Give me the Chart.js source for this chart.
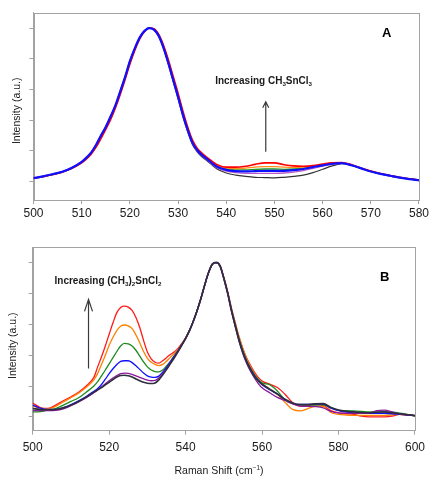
<!DOCTYPE html>
<html><head><meta charset="utf-8">
<script src="https://cdn.jsdelivr.net/npm/chart.js@4/dist/chart.umd.min.js"></script>
<style>
html,body{margin:0;padding:0;background:#fff;width:431px;height:478px;overflow:hidden}
#ca{position:absolute;left:0;top:0}
#cb{position:absolute;left:0;top:225px}
</style></head><body>
<canvas id="ca" width="431" height="225"></canvas>
<canvas id="cb" width="431" height="253"></canvas>
<script>
// ---------- DATA ----------
const Y_TICKS = [0, 1, 2, 3, 4, 5];
const A_X_TICK_STEP = 10;
const B_X_TICK_STEP = 20;

// Panel A: Raman shift (cm-1)
const A_X = [500,502,504,506,508,510,511,512,513,514,515,516,517,518,519,520,521,522,523,524,525,526,527,528,529,530,531,532,533,534,535,536,538,540,542,544,546,548,550,552,554,556,558,560,562,564,566,568,570,572,574,576,578,580];
const A_BLUE   = [0.11,0.17,0.24,0.32,0.45,0.64,0.78,0.95,1.20,1.50,1.78,2.12,2.48,2.94,3.40,3.92,4.33,4.68,4.90,5.00,4.95,4.74,4.35,3.85,3.30,2.76,2.18,1.68,1.26,1.02,0.86,0.74,
                  0.49,0.38,0.34,0.33,0.34,0.35,0.35,0.35,0.37,0.41,0.47,0.53,0.58,0.60,0.53,0.43,0.33,0.25,0.19,0.13,0.08,0.04];
const A_RED    = [0.11,0.16,0.23,0.31,0.43,0.61,0.74,0.90,1.12,1.40,1.70,2.02,2.40,2.84,3.32,3.82,4.26,4.63,4.88,5.00,4.98,4.79,4.43,3.96,3.42,2.88,2.30,1.78,1.35,1.08,0.92,0.79,
                  0.56,0.47,0.47,0.50,0.56,0.61,0.61,0.55,0.51,0.50,0.52,0.57,0.61,0.62,0.55,0.44,0.34,0.26,0.20,0.14,0.09,0.05];
const A_ORANGE = [0.11,0.16,0.23,0.31,0.44,0.62,0.76,0.92,1.15,1.44,1.73,2.06,2.43,2.88,3.36,3.86,4.29,4.65,4.89,5.00,4.97,4.77,4.40,3.91,3.37,2.82,2.24,1.73,1.31,1.05,0.89,0.77,
                  0.53,0.44,0.42,0.44,0.47,0.49,0.49,0.47,0.46,0.47,0.50,0.55,0.60,0.61,0.54,0.43,0.34,0.26,0.19,0.13,0.09,0.05];
const A_GREEN  = [0.11,0.17,0.23,0.31,0.44,0.63,0.77,0.93,1.17,1.46,1.75,2.09,2.45,2.90,3.38,3.88,4.30,4.66,4.89,5.00,4.96,4.75,4.37,3.88,3.33,2.79,2.21,1.70,1.28,1.03,0.87,0.75,
                  0.51,0.41,0.38,0.38,0.40,0.41,0.41,0.40,0.41,0.44,0.49,0.54,0.59,0.60,0.53,0.43,0.33,0.25,0.19,0.13,0.08,0.04];
const A_PURPLE = [0.12,0.18,0.25,0.33,0.46,0.65,0.80,0.97,1.22,1.52,1.80,2.14,2.50,2.96,3.42,3.93,4.35,4.69,4.91,5.00,4.94,4.72,4.33,3.82,3.27,2.72,2.15,1.65,1.23,0.99,0.83,0.71,
                  0.46,0.34,0.29,0.27,0.27,0.27,0.27,0.28,0.31,0.36,0.43,0.50,0.56,0.59,0.53,0.43,0.33,0.25,0.18,0.13,0.08,0.04];
const A_BLACK  = [0.11,0.17,0.24,0.32,0.45,0.64,0.78,0.95,1.20,1.50,1.78,2.12,2.48,2.94,3.40,3.92,4.33,4.68,4.90,5.00,4.94,4.72,4.33,3.82,3.26,2.70,2.12,1.62,1.20,0.96,0.80,0.68,
                  0.42,0.28,0.21,0.17,0.14,0.13,0.12,0.14,0.17,0.21,0.29,0.40,0.51,0.58,0.53,0.43,0.33,0.25,0.18,0.13,0.08,0.04];

// Panel B
const B_X = [500,502,504,506,508,510,512,514,516,
  517,518,519,520,521,522,523,524,525,526,527,528,529,530,531,532,533,534,535,536,537,538,539,540,541,542,543,544,545,546,547,548,549,550,551,552,553,554,555,556,557,558,559,560,
  562,564,566,568,570,572,574,576,578,580,582,584,586,588,590,592,594,596,598,600];
const B_RED = [0.45,0.30,0.27,0.38,0.52,0.65,0.80,1.00,1.28,
  1.62,1.95,2.30,2.68,3.05,3.38,3.55,3.59,3.56,3.45, 3.22,2.90,2.48,2.10,1.88,1.77,1.74,1.82,1.92,2.02,
  2.10,2.22,2.38,2.56,2.80,3.10,3.45,3.84,4.28,4.68, 4.95,5.00,4.90,4.52,4.06,3.52,3.04,2.58,2.20,1.90, 1.66,1.45,1.28,1.16,
  1.06,0.95,0.73,0.46,0.35,0.37,0.40,0.37,0.20,0.13,0.10,0.08,0.02,0.00,0.00,0.00,0.02,0.08,0.06,0.04];
const B_ORANGE = [0.35,0.28,0.26,0.34,0.48,0.62,0.77,0.96,1.20,
  1.41,1.70,2.00,2.32,2.58,2.80,2.94,2.98,2.95,2.86, 2.66,2.40,2.12,1.90,1.77,1.70,1.66,1.70,1.80,1.93,
  2.05,2.18,2.36,2.56,2.80,3.10,3.45,3.84,4.28,4.68, 4.95,5.00,4.90,4.52,4.06,3.52,3.04,2.58,2.20,1.88, 1.62,1.40,1.22,1.08,
  0.90,0.73,0.47,0.24,0.19,0.27,0.34,0.34,0.14,0.08,0.06,0.05,0.05,0.05,0.05,0.05,0.06,0.08,0.06,0.04];
const B_GREEN = [0.16,0.17,0.22,0.27,0.38,0.50,0.62,0.80,1.00,
  1.14,1.33,1.52,1.72,1.92,2.12,2.30,2.38,2.37,2.30, 2.16,1.97,1.78,1.62,1.52,1.47,1.46,1.52,1.65,1.80,
  1.98,2.15,2.35,2.55,2.80,3.10,3.45,3.84,4.28,4.68, 4.95,5.00,4.90,4.50,4.02,3.47,2.98,2.52,2.14,1.82, 1.57,1.37,1.21,1.10,
  1.04,0.84,0.55,0.43,0.38,0.38,0.38,0.39,0.30,0.21,0.20,0.19,0.18,0.16,0.16,0.16,0.15,0.12,0.08,0.03];
const B_BLUE = [0.38,0.28,0.24,0.24,0.30,0.40,0.52,0.66,0.83,
  0.92,1.05,1.22,1.40,1.56,1.70,1.80,1.82,1.82,1.76, 1.66,1.54,1.42,1.33,1.29,1.28,1.32,1.45,1.60,1.78,
  1.96,2.14,2.34,2.55,2.80,3.10,3.45,3.84,4.28,4.68, 4.95,5.00,4.90,4.50,4.02,3.46,2.96,2.49,2.10,1.79, 1.55,1.34,1.18,1.04,
  0.88,0.74,0.56,0.44,0.40,0.40,0.41,0.41,0.28,0.20,0.15,0.13,0.12,0.11,0.11,0.11,0.10,0.08,0.06,0.04];
const B_PURPLE = [0.20,0.20,0.20,0.21,0.26,0.36,0.48,0.62,0.78,
  0.87,0.97,1.07,1.17,1.26,1.34,1.40,1.42,1.41,1.38, 1.33,1.28,1.23,1.19,1.17,1.18,1.26,1.40,1.56,1.74,
  1.92,2.12,2.33,2.54,2.79,3.09,3.44,3.83,4.27,4.67, 4.95,5.00,4.88,4.47,3.98,3.42,2.92,2.44,2.04,1.72, 1.47,1.26,1.08,0.94,
  0.78,0.63,0.53,0.42,0.35,0.34,0.33,0.29,0.18,0.13,0.12,0.11,0.11,0.13,0.20,0.22,0.16,0.10,0.07,0.04];
const B_BLACK = [0.27,0.24,0.23,0.24,0.29,0.38,0.50,0.64,0.80,
  0.88,0.95,1.04,1.12,1.21,1.29,1.34,1.35,1.33,1.29, 1.23,1.17,1.12,1.09,1.08,1.10,1.20,1.36,1.53,1.72,
  1.91,2.11,2.32,2.54,2.79,3.09,3.44,3.84,4.28,4.68, 4.96,5.01,4.90,4.49,4.02,3.44,2.94,2.47,2.08,1.77, 1.52,1.31,1.16,1.06,
  0.90,0.74,0.57,0.45,0.40,0.40,0.42,0.43,0.30,0.22,0.18,0.16,0.14,0.13,0.15,0.16,0.13,0.10,0.07,0.04];

// ---------- STYLE / LAYOUT ----------
const FONT = '"Liberation Sans", Arial, Helvetica, sans-serif';
const AXIS_COLOR = '#a3a3a3';
const TEXT_COLOR = '#1a1a1a';

function pts(xs, ys) { return xs.map((x, i) => ({ x: x, y: ys[i] })); }
function ds(xs, ys, color, w) {
  return { data: pts(xs, ys), borderColor: color, borderWidth: w, pointRadius: 0,
           fill: false, cubicInterpolationMode: 'monotone' };
}

function drawRuns(ctx, x, y, parts, size, bold, color, align) {
  ctx.save();
  ctx.fillStyle = color; ctx.textBaseline = 'alphabetic'; ctx.textAlign = 'left';
  const fontFor = p => (bold ? 'bold ' : '') + (p.s ? size * 0.62 : size) + 'px ' + FONT;
  let total = 0;
  for (const p of parts) { ctx.font = fontFor(p); total += ctx.measureText(p.t).width; }
  let cx = align === 'center' ? x - total / 2 : x;
  for (const p of parts) {
    ctx.font = fontFor(p);
    const dy = p.s === 'sub' ? size * 0.2 : (p.s === 'sup' ? -size * 0.38 : 0);
    ctx.fillText(p.t, cx, y + dy);
    cx += ctx.measureText(p.t).width;
  }
  ctx.restore();
}
function arrowUp(ctx, x, y0, y1, hw, hl) {
  ctx.save();
  ctx.strokeStyle = '#3a3a3a'; ctx.lineWidth = 1.2;
  ctx.beginPath();
  ctx.moveTo(x, y0); ctx.lineTo(x, y1);
  ctx.moveTo(x - hw, y1 + hl); ctx.lineTo(x, y1); ctx.lineTo(x + hw, y1 + hl);
  ctx.stroke();
  ctx.restore();
}
function yTitle(ctx, cx, cy) {
  ctx.save();
  ctx.translate(cx, cy); ctx.rotate(-Math.PI / 2);
  ctx.fillStyle = TEXT_COLOR; ctx.font = '10.5px ' + FONT;
  ctx.textAlign = 'center'; ctx.textBaseline = 'middle';
  ctx.fillText('Intensity (a.u.)', 0, 0);
  ctx.restore();
}
const boxPlugin = {
  id: 'box',
  beforeDatasetsDraw(chart) {
    const a = chart.chartArea, ctx = chart.ctx;
    ctx.save(); ctx.strokeStyle = AXIS_COLOR; ctx.lineWidth = 1;
    ctx.strokeRect(Math.round(a.left) + 0.5, Math.round(a.top) + 0.5,
                   Math.round(a.right - a.left), Math.round(a.bottom - a.top));
    ctx.restore();
  }
};

function scales(xmin, xmax, step, ymin, ymax, yW, xH, xPad) {
  return {
    x: { type: 'linear', min: xmin, max: xmax,
         ticks: { stepSize: step, color: TEXT_COLOR, font: { family: FONT, size: 12 }, padding: xPad, maxRotation: 0, autoSkip: false },
         grid: { drawOnChartArea: false, color: AXIS_COLOR, tickLength: 4 },
         border: { color: AXIS_COLOR },
         afterFit(s) { s.height = xH; } },
    y: { type: 'linear', min: ymin, max: ymax,
         ticks: { display: false },
         grid: { drawOnChartArea: false, color: AXIS_COLOR, tickLength: 4 },
         border: { color: AXIS_COLOR },
         afterBuildTicks(s) { s.ticks = Y_TICKS.map(v => ({ value: v })); },
         afterFit(s) { s.width = yW; } }
  };
}
const common = { responsive: false, animation: false, devicePixelRatio: 1,
  plugins: { legend: { display: false }, tooltip: { enabled: false } } };

// ---------- PANEL A ----------
const annA = {
  id: 'annA',
  afterDraw(chart) {
    const ctx = chart.ctx, x = chart.scales.x, y = chart.scales.y;
    drawRuns(ctx, x.getPixelForValue(537.7), y.getPixelForValue(3.18),
      [{ t: 'Increasing CH' }, { t: '3', s: 'sub' }, { t: 'SnCl' }, { t: '3', s: 'sub' }], 10, true, TEXT_COLOR);
    arrowUp(ctx, x.getPixelForValue(548.2), y.getPixelForValue(0.97), y.getPixelForValue(2.60), 3, 6);
    drawRuns(ctx, x.getPixelForValue(573.3), y.getPixelForValue(4.70), [{ t: 'A' }], 13, true, '#000', 'center');
    yTitle(ctx, 17, 110.8);
  }
};
new Chart(document.getElementById('ca'), {
  type: 'line',
  data: { datasets: [
    ds(A_X, A_BLUE, '#1010ff', 2.2),
    ds(A_X, A_RED, '#ff0000', 1.6),
    ds(A_X, A_ORANGE, '#ff8c1a', 1.3),
    ds(A_X, A_GREEN, '#1f9a1f', 1.3),
    ds(A_X, A_PURPLE, '#b55cc8', 1.3),
    ds(A_X, A_BLACK, '#333333', 1.2)
  ] },
  options: Object.assign({}, common, {
    layout: { padding: { left: 0, right: 8.3, top: 12.7, bottom: 0 } },
    scales: scales(500, 580, A_X_TICK_STEP, -0.6, 5.5, 33.5, 25, 2)
  }),
  plugins: [boxPlugin, annA]
});

// ---------- PANEL B ----------
const annB = {
  id: 'annB',
  afterDraw(chart) {
    const ctx = chart.ctx, x = chart.scales.x, y = chart.scales.y;
    drawRuns(ctx, x.getPixelForValue(505.7), y.getPixelForValue(4.31),
      [{ t: 'Increasing (CH' }, { t: '3', s: 'sub' }, { t: ')' }, { t: '2', s: 'sub' }, { t: 'SnCl' }, { t: '2', s: 'sub' }], 10, true, TEXT_COLOR);
    arrowUp(ctx, x.getPixelForValue(514.6), y.getPixelForValue(1.57), y.getPixelForValue(3.81), 4, 12);
    drawRuns(ctx, x.getPixelForValue(592.1), y.getPixelForValue(4.40), [{ t: 'B' }], 13, true, '#000', 'center');
    drawRuns(ctx, 219, chart.chartArea.bottom + 43,
      [{ t: 'Raman Shift (cm' }, { t: '\u22121', s: 'sup' }, { t: ')' }], 10.5, false, TEXT_COLOR, 'center');
    yTitle(ctx, 13.3, 120.7);
  }
};
new Chart(document.getElementById('cb'), {
  type: 'line',
  data: { datasets: [
    ds(B_X, B_BLACK, '#2e2e3e', 1.6),
    ds(B_X, B_PURPLE, '#8a1a9a', 1.3),
    ds(B_X, B_BLUE, '#1010ff', 1.3),
    ds(B_X, B_GREEN, '#1f8a1f', 1.3),
    ds(B_X, B_ORANGE, '#ff8000', 1.3),
    ds(B_X, B_RED, '#ff1a1a', 1.3)
  ] },
  options: Object.assign({}, common, {
    layout: { padding: { left: 0, right: 10.3, top: 22.3, bottom: 0 } },
    scales: scales(500, 600, B_X_TICK_STEP, -0.45, 5.5, 32.7, 47.3, 6)
  }),
  plugins: [boxPlugin, annB]
});
</script>
</body></html>
